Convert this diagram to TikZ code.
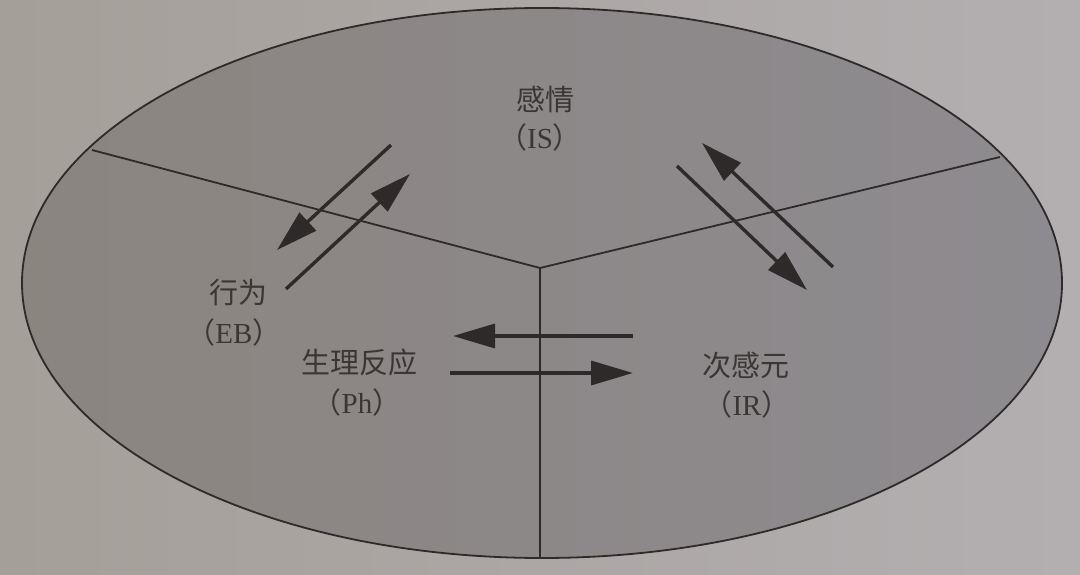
\documentclass[tikz,border=0pt]{standalone}
\usepackage{fontspec}
\setmainfont{Liberation Serif}
\newfontfamily\cjk{Noto Sans CJK SC}
\usetikzlibrary{arrows.meta}
\definecolor{pageL}{HTML}{A59F99}
\definecolor{pageR}{HTML}{B3AFB1}
\definecolor{ovalL}{HTML}{8B8580}
\definecolor{ovalR}{HTML}{8E8B90}
\definecolor{ink}{HTML}{2E2A29}
\definecolor{txt}{HTML}{3A3634}
\tikzset{
  divline/.style={draw=ink, line width=1.8pt},
  flow/.style={draw=ink, line width=3.4pt, -{Triangle[length=42pt,width=24pt]}},
  lbl/.style={text=txt, inner sep=0pt, align=center, font=\fontsize{29}{34}\selectfont},
}
\begin{document}
\begin{tikzpicture}[x=1pt,y=-1pt]
\useasboundingbox (0,0) rectangle (1080,575);
\shade[left color=pageL, right color=pageR] (0,0) rectangle (1080,575);
\shade[left color=ovalL, right color=ovalR, draw=ink, line width=1.8pt] (542,283) ellipse [x radius=520, y radius=275];
% dividers
\coordinate (J) at (540,268);
\coordinate (DL) at (92,150);
\coordinate (DR) at (1000,157);
\coordinate (DB) at (540,558);
\draw[divline] (DL) -- (J) -- (DR);
\draw[divline] (J) -- (DB);
% labels
\node[lbl] (is) at (545,99) {\cjk 感情};
\node[lbl] (isab) at (540,137) {{\cjk （}IS{\cjk ）}};
\node[lbl] (eb) at (238,293) {\cjk 行为};
\node[lbl] (ebab) at (234,332) {{\cjk （}EB{\cjk ）}};
\node[lbl] (ph) at (359,362) {\cjk 生理反应};
\node[lbl] (phab) at (357,402) {{\cjk （}Ph{\cjk ）}};
\node[lbl] (ir) at (746,366) {\cjk 次感元};
\node[lbl] (irab) at (747,404) {{\cjk （}IR{\cjk ）}};
% arrow end points
\coordinate (a1s) at (391,145);
\coordinate (a1e) at (277,250);
\coordinate (a2s) at (286,289);
\coordinate (a2e) at (410,174);
\coordinate (b1s) at (833,267);
\coordinate (b1e) at (702,143);
\coordinate (b2s) at (677,166);
\coordinate (b2e) at (807,290);
\coordinate (c1s) at (633,336);
\coordinate (c1e) at (453,336);
\coordinate (c2s) at (450,373);
\coordinate (c2e) at (633,373);
\draw[flow] (a1s) -- (a1e);
\draw[flow] (a2s) -- (a2e);
\draw[flow] (b1s) -- (b1e);
\draw[flow] (b2s) -- (b2e);
\draw[flow] (c1s) -- (c1e);
\draw[flow] (c2s) -- (c2e);
\end{tikzpicture}
\end{document}
